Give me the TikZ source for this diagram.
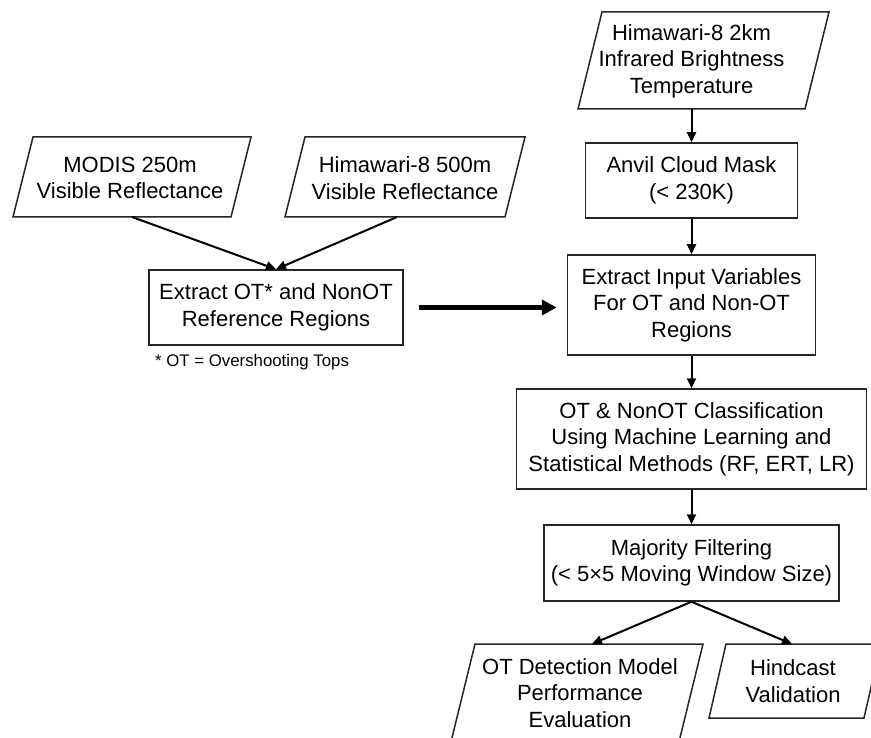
\documentclass[tikz,border=0pt]{standalone}
\usepackage{fontspec}
\setmainfont{Liberation Sans}
\usetikzlibrary{arrows.meta}
\begin{document}
\begin{tikzpicture}[x=1pt,y=-1pt,
  lbl/.style={align=center, inner sep=0pt, font=\fontsize{22}{26.5}\selectfont},
  box/.style={lbl, draw=black!85, line width=1.5pt},
  para/.style={draw=black!85, line width=1.5pt, line join=miter},
  arr/.style={-{Triangle[length=10pt,width=9pt]}, line width=2pt, black},
  bigarr/.style={-{Triangle[length=15pt,width=15pt]}, line width=5pt, black}]
\useasboundingbox (0,0) rectangle (871,738);
\clip (0,0) rectangle (871,738);
\fill[white] (0,0) rectangle (871,738);

% parallelograms (inputs / outputs)
\draw[para] (602,12) -- (829,12) -- (805,109) -- (578,109) -- cycle;
\node[lbl] (hbt) at (691.5,61) {Himawari-8 2km\\Infrared Brightness\\Temperature};
\coordinate (hbtb) at (691.5,109);

\draw[para] (33,137) -- (251,137) -- (231,217) -- (13,217) -- cycle;
\node[lbl] (modis) at (130,178) {MODIS 250m\\Visible Reflectance};
\coordinate (modisb) at (132,217);

\draw[para] (305,137) -- (525,137) -- (505,217) -- (285,217) -- cycle;
\node[lbl] (him) at (405,178) {Himawari-8 500m\\Visible Reflectance};
\coordinate (himb) at (397,217);

\draw[para] (475,644) -- (703,644) -- (678,746) -- (450,746) -- cycle;
\node[lbl] (otdet) at (580,693) {OT Detection Model\\Performance\\Evaluation};
\coordinate (otdett) at (592,644);

\draw[para] (726,644) -- (881,644) -- (864,718) -- (709,718) -- cycle;
\node[lbl] (hind) at (793,681) {Hindcast\\Validation};
\coordinate (hindt) at (792,644);

% boxes
\node[box, minimum width=254pt, minimum height=75pt] (extot) at (276,307.5) {Extract OT* and NonOT\\Reference Regions};
\node[anchor=west, inner sep=0pt, font=\fontsize{16.8}{20}\selectfont] (note) at (155,362) {* OT = Overshooting Tops};
\node[box, minimum width=212pt, minimum height=75pt] (anvil) at (691.5,180.5) {Anvil Cloud Mask\\(< 230K)};
\node[box, minimum width=248pt, minimum height=100pt] (extin) at (691.5,305) {Extract Input Variables\\For OT and Non-OT\\Regions};
\node[box, minimum width=350pt, minimum height=100pt] (cls) at (691.5,439) {OT \& NonOT Classification\\Using Machine Learning and\\Statistical Methods (RF, ERT, LR)};
\node[box, minimum width=295pt, minimum height=76pt] (maj) at (691.5,563) {Majority Filtering\\(< 5×5 Moving Window Size)};

% connectors
\draw[arr] (hbtb) -- (anvil.north);
\draw[arr] (anvil.south) -- (extin.north);
\draw[arr] (extin.south) -- (cls.north);
\draw[arr] (cls.south) -- (maj.north);
\draw[arr] (modisb) -- (extot.north);
\draw[arr] (himb) -- (extot.north);
\draw[bigarr, shorten <=15pt, shorten >=10pt] (extot.east) -- (extin.west |- extot.east);
\draw[arr] (maj.south) -- (otdett);
\draw[arr] (maj.south) -- (hindt);
\end{tikzpicture}
\end{document}
